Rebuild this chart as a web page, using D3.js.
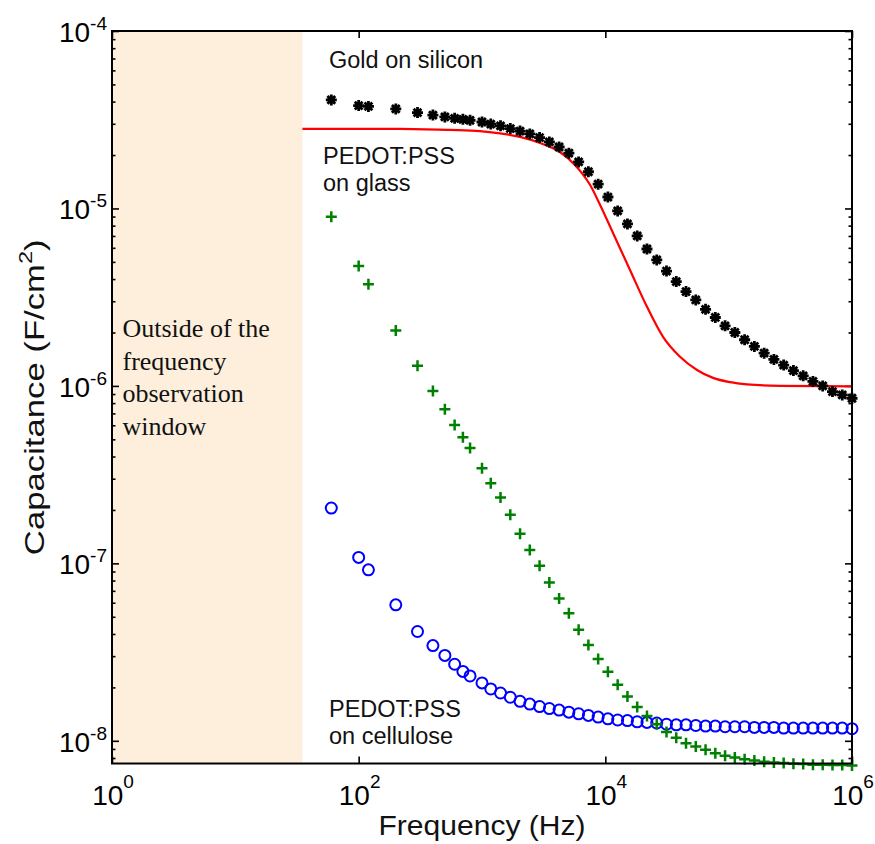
<!DOCTYPE html>
<html>
<head>
<meta charset="utf-8">
<script src="https://cdnjs.cloudflare.com/ajax/libs/d3/7.8.5/d3.min.js"></script>
<style>
  body { margin: 0; background: #fff; }
  svg text { font-family: Arial, "Liberation Sans", sans-serif; }
</style>
</head>
<body>
<script>
// frequencies of the sweep (Hz), shared by the three measured series
var freq = [60, 100, 120, 200, 300, 400, 500, 600, 700, 800, 1000,
  1178, 1413, 1696, 2034, 2441, 2930, 3516, 4219, 5062, 6074, 7289, 8746,
  10490, 12590, 15110, 18130, 21760, 26110, 31330, 37590, 45100, 54120, 64950, 77930, 93520,
  112200, 134700, 161600, 193900, 232700, 279200, 335000, 402000, 482400, 578700, 694500, 833300, 1000000]

// capacitance (F/cm2)
var goldOnSilicon = [4.09e-5, 3.80e-5, 3.76e-5, 3.64e-5, 3.47e-5, 3.36e-5, 3.28e-5, 3.22e-5, 3.18e-5, 3.14e-5, 3.07e-5,
  2.99e-5, 2.92e-5, 2.82e-5, 2.73e-5, 2.63e-5, 2.51e-5, 2.37e-5, 2.22e-5, 2.05e-5, 1.83e-5, 1.61e-5, 1.37e-5,
  1.16e-5, 9.68e-6, 8.18e-6, 7.00e-6, 5.91e-6, 5.13e-6, 4.44e-6, 3.87e-6, 3.40e-6, 3.05e-6, 2.70e-6, 2.43e-6, 2.18e-6,
  2.00e-6, 1.82e-6, 1.67e-6, 1.53e-6, 1.41e-6, 1.31e-6, 1.22e-6, 1.14e-6, 1.06e-6, 1.00e-6, 9.29e-7, 8.90e-7, 8.52e-7]

var pedotGlass = [8.99e-6, 4.74e-6, 3.74e-6, 2.05e-6, 1.30e-6, 9.37e-7, 7.39e-7, 6.03e-7, 5.13e-7, 4.47e-7, 3.44e-7,
  2.83e-7, 2.35e-7, 1.88e-7, 1.47e-7, 1.19e-7, 9.68e-8, 7.79e-8, 6.33e-8, 5.24e-8, 4.22e-8, 3.47e-8, 2.89e-8,
  2.45e-8, 2.07e-8, 1.78e-8, 1.55e-8, 1.38e-8, 1.24e-8, 1.12e-8, 1.04e-8, 9.70e-9, 9.29e-9, 8.90e-9, 8.52e-9, 8.23e-9,
  8.05e-9, 7.88e-9, 7.74e-9, 7.61e-9, 7.54e-9, 7.49e-9, 7.42e-9, 7.39e-9, 7.32e-9, 7.32e-9, 7.30e-9, 7.30e-9, 7.26e-9]

var pedotCellulose = [2.05e-7, 1.08e-7, 9.19e-8, 5.84e-8, 4.13e-8, 3.44e-8, 3.03e-8, 2.70e-8, 2.46e-8, 2.32e-8, 2.12e-8,
  1.96e-8, 1.86e-8, 1.76e-8, 1.67e-8, 1.61e-8, 1.56e-8, 1.52e-8, 1.49e-8, 1.45e-8, 1.42e-8, 1.39e-8, 1.36e-8,
  1.33e-8, 1.31e-8, 1.30e-8, 1.28e-8, 1.27e-8, 1.26e-8, 1.24e-8, 1.23e-8, 1.23e-8, 1.22e-8, 1.21e-8, 1.21e-8, 1.20e-8,
  1.20e-8, 1.20e-8, 1.19e-8, 1.19e-8, 1.19e-8, 1.18e-8, 1.18e-8, 1.18e-8, 1.18e-8, 1.18e-8, 1.18e-8, 1.18e-8, 1.17e-8]

// model curve (red line)
var fitFreq = [35, 216, 550, 963, 1400, 2032, 2951, 4285, 5673, 7510, 9055, 11540, 15850, 21770, 29360,
  40310, 55370, 74650, 102500, 140800, 260900, 550400, 1000000]
var fitCap = [2.81e-5, 2.81e-5, 2.77e-5, 2.73e-5, 2.65e-5, 2.53e-5, 2.34e-5, 2.08e-5, 1.76e-5, 1.36e-5, 1.05e-5, 7.28e-6, 4.50e-6, 2.79e-6, 1.89e-6,
  1.46e-6, 1.23e-6, 1.11e-6, 1.05e-6, 1.02e-6, 1.00e-6, 9.96e-7, 9.94e-7]

var windowEdge = 35   // Hz, end of the shaded band
var xTicks = [1, 1e2, 1e4, 1e6]
var yTicks = [1e-8, 1e-7, 1e-6, 1e-5, 1e-4]

var width = 875
var height = 844
var margin = { top: 31, bottom: 80.5, left: 112, right: 23 }

var escalaX = d3.scaleLog()
  .domain([1, 1e6])
  .range([margin.left, width - margin.right])

var escalaY = d3.scaleLog()
  .domain([7.45e-9, 1e-4])
  .range([height - margin.bottom, margin.top])

var svg = d3.select("body").append("svg")
  .attr("width", width)
  .attr("height", height)

var x0 = escalaX.range()[0], x1 = escalaX.range()[1]
var y0 = escalaY.range()[0], y1 = escalaY.range()[1]

// shaded band outside of the observation window
svg.append("rect")
  .attr("x", x0 + 1)
  .attr("y", y1 + 1)
  .attr("width", escalaX(windowEdge) - x0 - 1)
  .attr("height", y0 - y1 - 2)
  .attr("fill", "#fdefdc")

svg.append("g")
  .attr("font-size", 26)
  .attr("fill", "#111")
  .selectAll("text")
  .data(["Outside of the", "frequency", "observation", "window"])
  .enter().append("text")
  .attr("x", 122.5)
  .attr("y", (d, i) => 337 + i * 32.5)
  .style("font-family", "'Liberation Serif', 'Times New Roman', serif")
  .text(d => d)

// minor ticks of y
var minorY = []
for (var k = -9; k <= -5; k++) {
  for (var m = 2; m <= 9; m++) {
    var v = m * Math.pow(10, k)
    if (v > escalaY.domain()[0] && v < escalaY.domain()[1]) minorY.push(v)
  }
}

// axes (ticks point inwards)
svg.append("g")
  .attr("transform", "translate(" + x0 + ",0)")
  .call(d3.axisRight(escalaY).tickValues(minorY).tickSize(3.5).tickFormat(""))
svg.append("g")
  .attr("transform", "translate(" + x1 + ",0)")
  .call(d3.axisLeft(escalaY).tickValues(minorY).tickSize(3.5).tickFormat(""))
svg.append("g")
  .attr("transform", "translate(" + x0 + ",0)")
  .call(d3.axisRight(escalaY).tickValues(yTicks).tickSize(7).tickFormat(""))
svg.append("g")
  .attr("transform", "translate(" + x1 + ",0)")
  .call(d3.axisLeft(escalaY).tickValues(yTicks).tickSize(7).tickFormat(""))
svg.append("g")
  .attr("transform", "translate(0," + y0 + ")")
  .call(d3.axisTop(escalaX).tickValues(xTicks).tickSize(7).tickFormat(""))
svg.append("g")
  .attr("transform", "translate(0," + y1 + ")")
  .call(d3.axisBottom(escalaX).tickValues(xTicks).tickSize(7).tickFormat(""))

svg.selectAll(".domain").remove()
svg.selectAll(".tick line").attr("stroke", "#000").attr("stroke-width", 1.6)

// tick labels 10^n
svg.append("g").selectAll("text")
  .data(yTicks).enter().append("text")
  .attr("x", x0 - 5)
  .attr("y", d => escalaY(d) + 11)
  .attr("text-anchor", "end")
  .attr("font-size", 28)
  .each(function (d) {
    var t = d3.select(this)
    t.append("tspan").text("10")
    t.append("tspan").attr("dy", -12).attr("font-size", 19).text(Math.round(Math.log10(d)))
  })

svg.append("g").selectAll("text")
  .data(xTicks).enter().append("text")
  .attr("x", d => escalaX(d) + 1)
  .attr("y", y0 + 41.5)
  .attr("text-anchor", "middle")
  .attr("font-size", 28)
  .each(function (d) {
    var t = d3.select(this)
    t.append("tspan").text("10")
    t.append("tspan").attr("dy", -17).attr("font-size", 19).text(Math.round(Math.log10(d)))
  })

// axis titles
svg.append("text")
  .attr("x", (x0 + x1) / 2)
  .attr("y", 835)
  .attr("text-anchor", "middle")
  .attr("font-size", 27)
  .attr("fill", "#111")
  .attr("textLength", 207)
  .attr("lengthAdjust", "spacingAndGlyphs")
  .text("Frequency (Hz)")

var tituloY = svg.append("text")
  .attr("transform", "translate(44," + ((y0 + y1) / 2) + ") rotate(-90) scale(1.24,1)")
  .attr("text-anchor", "middle")
  .attr("font-size", 28)
  .attr("fill", "#111")
tituloY.append("tspan").text("Capacitance (F/cm")
tituloY.append("tspan").attr("dy", -12).attr("font-size", 19).text("2")
tituloY.append("tspan").attr("dy", 12).text(")")

// clip for the line
svg.append("clipPath").attr("id", "clip")
  .append("rect")
  .attr("x", x0).attr("y", y1)
  .attr("width", x1 - x0).attr("height", y0 - y1)

var linea = d3.line()
  .x(d => escalaX(d[0]))
  .y(d => escalaY(d[1]))
  .curve(d3.curveMonotoneX)

svg.append("path")
  .datum(d3.zip(fitFreq, fitCap))
  .attr("clip-path", "url(#clip)")
  .attr("d", linea)
  .attr("fill", "none")
  .attr("stroke", "#ff0000")
  .attr("stroke-width", 2.2)

// gold on silicon: asterisks
svg.append("g").selectAll("path")
  .data(d3.zip(freq, goldOnSilicon)).enter().append("path")
  .attr("transform", d => "translate(" + escalaX(d[0]) + "," + escalaY(d[1]) + ")")
  .attr("d", "M-5.5,0H5.5M0,-5.5V5.5M-3.9,-3.9L3.9,3.9M-3.9,3.9L3.9,-3.9")
  .attr("stroke", "#000")
  .attr("stroke-width", 2.8)

// pedot on cellulose: circles
svg.append("g").selectAll("circle")
  .data(d3.zip(freq, pedotCellulose)).enter().append("circle")
  .attr("cx", d => escalaX(d[0]))
  .attr("cy", d => escalaY(d[1]))
  .attr("r", 5.5)
  .attr("fill", "none")
  .attr("stroke", "#0000ff")
  .attr("stroke-width", 2)

// pedot on glass: plus signs
svg.append("g").selectAll("path")
  .data(d3.zip(freq, pedotGlass)).enter().append("path")
  .attr("transform", d => "translate(" + escalaX(d[0]) + "," + escalaY(d[1]) + ")")
  .attr("d", "M-5.5,0H5.5M0,-5.5V5.5")
  .attr("stroke", "#008000")
  .attr("stroke-width", 2.5)

// frame
svg.append("rect")
  .attr("x", x0).attr("y", y1)
  .attr("width", x1 - x0).attr("height", y0 - y1)
  .attr("fill", "none")
  .attr("stroke", "#000")
  .attr("stroke-width", 2)

// annotations
var notas = [
  { lines: ["Gold on silicon"], x: 329, y: 68 },
  { lines: ["PEDOT:PSS", "on glass"], x: 323, y: 164 },
  { lines: ["PEDOT:PSS", "on cellulose"], x: 329, y: 717 }
]
notas.forEach(function (n) {
  n.lines.forEach(function (l, i) {
    svg.append("text")
      .attr("x", n.x)
      .attr("y", n.y + i * 26.5)
      .attr("font-size", 23.5)
      .attr("fill", "#111")
      .text(l)
  })
})
</script>
</body>
</html>
